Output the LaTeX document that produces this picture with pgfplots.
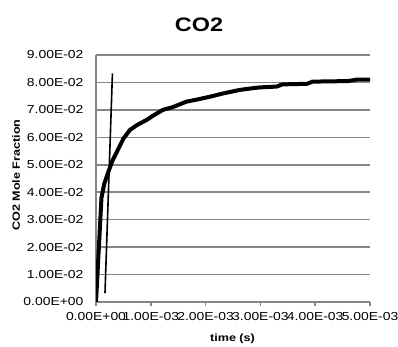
\documentclass[border=0pt]{standalone}
\usepackage{fontspec}
\setmainfont{Liberation Sans}
\newfontfamily\tickfont[FakeStretch=1.2]{Liberation Sans}
\newfontfamily\labfont[FakeStretch=1.2]{Liberation Sans}
\usepackage{pgfplots}
\pgfplotsset{compat=1.18}
\definecolor{gridgray}{RGB}{134,134,134}
\pgfplotstableread{
x y
0 0
0.05 1.9
0.1 3.8
0.15 4.3
0.2 4.6
0.3 5.15
0.4 5.55
0.5 5.95
0.62 6.27
0.75 6.45
0.92 6.63
1.05 6.8
1.22 7.0
1.4 7.1
1.65 7.3
1.85 7.38
2.08 7.48
2.32 7.6
2.63 7.73
2.9 7.8
3.0 7.82
3.3 7.85
3.4 7.93
3.85 7.95
3.95 8.03
4.6 8.05
4.75 8.1
5.0 8.1
}\curve
\pgfplotstableread{
x y
0.164 0.32
0.30 8.33
}\thin
\begin{document}
\begin{tikzpicture}
\path[use as bounding box] (0,0) rectangle (398pt,347pt);
\begin{axis}[
  at={(96pt,45pt)}, anchor=south west,
  scale only axis, width=274pt, height=247pt,
  xmin=0, xmax=5, ymin=0, ymax=9,
  axis x line*=bottom, axis y line*=left,
  axis line style={draw=gridgray, line width=1.5pt},
  xtick={0,1,2,3,4,5},
  xticklabels={0.00E+00,1.00E-03,2.00E-03,3.00E-03,4.00E-03,5.00E-03},
  ytick={0,1,2,3,4,5,6,7,8,9},
  yticklabels={0.00E+00,1.00E-02,2.00E-02,3.00E-02,4.00E-02,5.00E-02,6.00E-02,7.00E-02,8.00E-02,9.00E-02},
  ymajorgrids,
  grid style={draw=gridgray, line width=1.5pt},
  tick align=outside, major tick length=4pt,
  tick style={draw=gridgray, line width=1.5pt},
  ytick style={draw=none},
  ticklabel style={font=\tickfont\fontsize{11.6}{13}\selectfont},
  yticklabel style={xshift=-5pt},
  xticklabel style={yshift=-3pt},
]
\addplot[black, line width=4pt, line join=round] table[x=x,y=y] {\curve};
\addplot[black, line width=1.6pt] table[x=x,y=y] {\thin};
\end{axis}
\node[font=\labfont\bfseries\fontsize{19.5}{22}\selectfont] at (199pt,322pt) {CO2};
\node[font=\labfont\bfseries\fontsize{10.5}{12}\selectfont] at (232.5pt,8pt) {time (s)};
\node[font=\labfont\bfseries\fontsize{10.5}{12}\selectfont, rotate=90] at (16pt,172pt) {CO2 Mole Fraction};
\end{tikzpicture}
\end{document}
